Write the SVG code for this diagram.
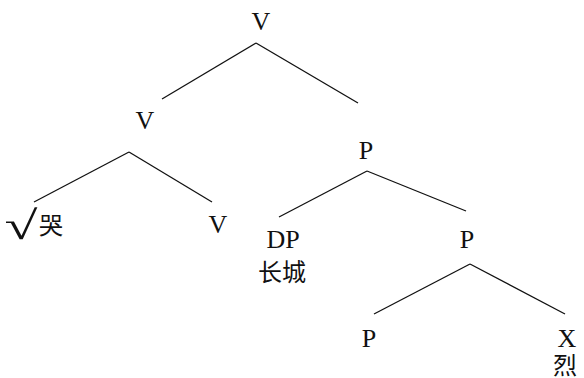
<svg xmlns="http://www.w3.org/2000/svg" width="584" height="378" viewBox="0 0 584 378">
<style>
text{font-family:"Liberation Serif","Noto Sans CJK SC",serif;font-size:26px;fill:#111;text-anchor:middle}
.cjk{font-size:24px}
.rad{font-family:"Liberation Serif",serif;font-size:40px}
#edges line{stroke:#111;stroke-width:1.3}
</style>
<rect width="584" height="378" fill="#fff"/>
<g id="edges">
<line x1="256" y1="43" x2="162" y2="99"/>
<line x1="256" y1="43" x2="358" y2="103"/>
<line x1="129" y1="152" x2="34" y2="202"/>
<line x1="129" y1="152" x2="212" y2="202"/>
<line x1="367" y1="171" x2="279" y2="217"/>
<line x1="367" y1="171" x2="466" y2="211"/>
<line x1="470" y1="264" x2="374" y2="314"/>
<line x1="470" y1="264" x2="565" y2="314"/>
</g>
<g id="n-v-top"><text x="261" y="30">V</text></g>
<g id="n-v-left"><text x="145" y="129">V</text></g>
<g id="n-root-cry"><text class="rad" transform="translate(21,239) scale(1.5,1)">√</text><text class="cjk" x="51" y="234">哭</text></g>
<g id="n-v-right"><text x="218" y="233">V</text></g>
<g id="n-p-mid"><text x="366" y="159">P</text></g>
<g id="n-dp"><text x="283" y="248">DP</text><text class="cjk" x="282" y="281">长城</text></g>
<g id="n-p-right"><text x="467" y="248">P</text></g>
<g id="n-p-bottom"><text x="369" y="347">P</text></g>
<g id="n-x"><text x="567" y="347">X</text><text class="cjk" x="565" y="374">烈</text></g>
</svg>
